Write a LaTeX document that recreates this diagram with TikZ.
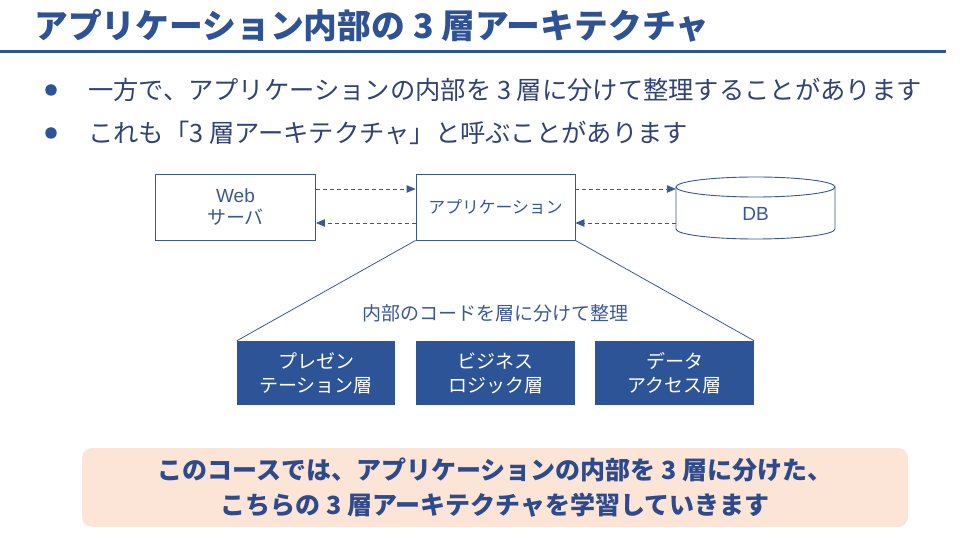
\documentclass[tikz,border=0pt]{standalone}
\usepackage{fontspec}
\setmainfont{Noto Sans CJK JP}
\newfontfamily\latinsf{Liberation Sans}
\usetikzlibrary{arrows.meta}

\definecolor{titleblue}{RGB}{47,82,148}
\definecolor{ruleblue}{RGB}{46,84,152}
\definecolor{bodytext}{RGB}{48,66,118}
\definecolor{edgeblue}{RGB}{58,88,150}
\definecolor{layerfill}{RGB}{46,84,152}
\definecolor{notefill}{RGB}{252,229,214}
\definecolor{notetext}{RGB}{44,74,140}

\tikzset{
  plainbox/.style={draw=edgeblue, line width=0.9pt, fill=white, minimum width=160pt,
    minimum height=66pt, inner sep=0pt, text=edgeblue, align=center,
    font=\fontsize{16.8}{22}\selectfont},
  layerbox/.style={fill=layerfill, minimum width=158pt, minimum height=64pt,
    inner sep=0pt, text=white, align=center, font=\fontsize{19}{24}\selectfont},
  flow/.style={draw=edgeblue, line width=0.9pt, dash pattern=on 4pt off 3pt,
    -{Triangle[length=9pt,width=7.5pt]}},
  fan/.style={draw=edgeblue, line width=0.8pt},
  cyl/.style={draw=edgeblue, line width=0.9pt},
  bulletdot/.style={circle, fill=ruleblue, inner sep=0pt, minimum size=11.5pt},
  bullettext/.style={anchor=west, inner sep=0pt, text=bodytext,
    font=\fontsize{25.3}{29}\selectfont},
}

\begin{document}
\begin{tikzpicture}[x=1pt, y=-1pt]
\useasboundingbox (0,0) rectangle (972,534);

% heading and rule
\node[anchor=west, inner sep=0pt, text=titleblue, font=\fontsize{33.8}{38}\bfseries\selectfont]
  (title) at (34,26) {アプリケーション内部の 3 層アーキテクチャ};
\coordinate (ruleL) at (0,52);
\coordinate (ruleR) at (946,52);
\draw[ruleblue, line width=3pt] (ruleL) -- (ruleR);

% bullet list
\node[bulletdot] (b1) at (51,90) {};
\node[bullettext] (t1) at (88,90) {一方で、アプリケーションの内部を 3 層に分けて整理することがあります};
\node[bulletdot] (b2) at (51,133) {};
\node[bullettext] (t2) at (88,133) {これも「3 層アーキテクチャ」と呼ぶことがあります};

% upper row: web server, application, database
\node[plainbox, font=\fontsize{19}{21.5}\selectfont] (web) at (235.5,207)
  {{\latinsf Web}\\サーバ};
\node[plainbox, minimum width=159pt] (app) at (495.5,207) {アプリケーション};

% database cylinder (radii given in pt so the arcs follow the page orientation)
\node[minimum width=159pt, minimum height=63pt, inner sep=0pt] (db) at (755.5,208.5) {};
\fill[white] (676,187) -- (676,229)
  arc[start angle=180, end angle=360, x radius=79.5pt, y radius=10pt]
  -- (835,187) arc[start angle=0, end angle=180, x radius=79.5pt, y radius=10pt] -- cycle;
\draw[cyl] (676,187) -- (676,229)
  arc[start angle=180, end angle=360, x radius=79.5pt, y radius=10pt] -- (835,187);
\draw[cyl] (755.5,187) ellipse[x radius=79.5pt, y radius=10pt];
\node[text=edgeblue, font=\latinsf\fontsize{19}{22}\selectfont] (dbl) at (755.5,214) {DB};

% request / response arrows
\draw[flow] ([yshift=18pt]web.east) -- ([yshift=18pt]app.west);
\draw[flow] ([yshift=-16pt]app.west) -- ([yshift=-16pt]web.east);
\draw[flow] ([yshift=18pt]app.east) -- ([yshift=19.5pt]db.west);
\draw[flow] ([yshift=-14.5pt]db.west) -- ([yshift=-16pt]app.east);

% layers inside the application
\node[layerbox] (pres) at (316,373) {プレゼン\\テーション層};
\node[layerbox, minimum width=159pt] (biz) at (495.5,373) {ビジネス\\ロジック層};
\node[layerbox, minimum width=159pt] (data) at (674.5,373) {データ\\アクセス層};

\draw[fan] (app.south west) -- (pres.north west);
\draw[fan] (app.south east) -- (data.north east);
\node[text=edgeblue, font=\fontsize{19}{22}\selectfont] (split) at (495,313) {内部のコードを層に分けて整理};

% summary note
\node[fill=notefill, rounded corners=10pt, minimum width=826pt, minimum height=79pt,
  inner sep=0pt, align=center, text=notetext, font=\fontsize{25}{35}\bfseries\selectfont]
  (note) at (495,487.5)
  {このコースでは、アプリケーションの内部を 3 層に分けた、\\こちらの 3 層アーキテクチャを学習していきます};
\end{tikzpicture}
\end{document}
